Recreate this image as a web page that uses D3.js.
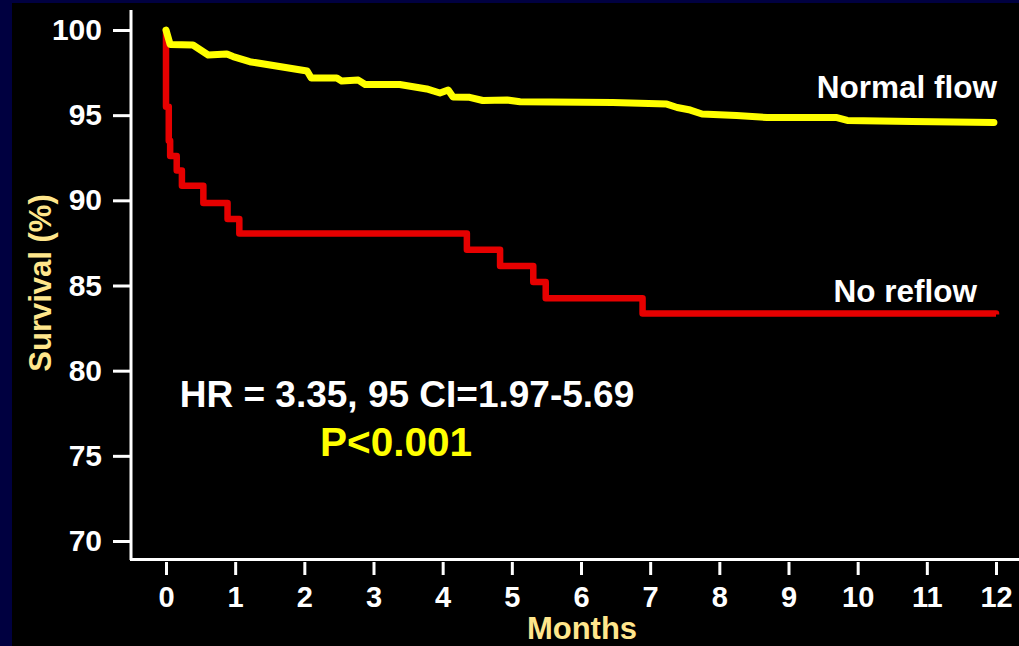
<!DOCTYPE html>
<html>
<head>
<meta charset="utf-8">
<script src="https://cdn.jsdelivr.net/npm/d3@7"></script>
<style>
  body { margin: 0; background: #000040; }
  text { font-family: "Liberation Sans", Arial, sans-serif; font-weight: bold; }
</style>
</head>
<body>
<svg id="grafico"></svg>
<script>
// tick labels
var mesesTicks = [0, 1, 2, 3, 4, 5, 6, 7, 8, 9, 10, 11, 12];
var sobrevivenciaTicks = [70, 75, 80, 85, 90, 95, 100];

// Normal flow
var normalMeses = [0, 0.06, 0.39, 0.61, 0.88, 0.97, 1.21, 2.04, 2.1, 2.47, 2.54, 2.78, 2.88, 3.38, 3.77, 3.96, 4.08, 4.15, 4.39, 4.58, 4.93, 5.12, 6.46, 7.24, 7.39, 7.58, 7.75, 8.25, 8.69, 9.7, 9.85, 10.79, 11.97];
var normalSobrev = [100, 99.15, 99.12, 98.53, 98.59, 98.44, 98.14, 97.59, 97.18, 97.18, 97.0, 97.06, 96.8, 96.8, 96.54, 96.3, 96.48, 96.07, 96.05, 95.86, 95.89, 95.79, 95.75, 95.65, 95.45, 95.3, 95.07, 94.98, 94.86, 94.86, 94.69, 94.63, 94.57];

// No reflow (step curve)
var reflowMeses = [0, 0, 0.04, 0.06, 0.155, 0.23, 0.54, 0.89, 1.06, 4.35, 4.83, 5.31, 5.49, 6.89, 12];
var reflowSobrev = [100, 95.5, 93.5, 92.6, 91.75, 90.85, 89.85, 88.9, 88.05, 87.1, 86.15, 85.2, 84.25, 83.35, 83.3];

var largura = 1019, altura = 646;
var svg = d3.select('#grafico')
            .attr('width', largura)
            .attr('height', altura);

//Fundo preto com borda azul escura
svg.append('rect')
   .attr('width', largura).attr('height', altura)
   .attr('fill', '#000040');
svg.append('rect')
   .attr('x', 12).attr('y', 3)
   .attr('width', largura - 12).attr('height', altura - 3)
   .attr('fill', '#000000');

//Escalas
var x = d3.scaleLinear().domain([0, 12]).range([166, 996]);
var y = d3.scaleLinear().domain([70, 100]).range([541, 30]);

//Eixo Y
var eixoY = svg.append('g')
    .attr('transform', 'translate(130,0)')
    .call(d3.axisLeft(y).tickValues(sobrevivenciaTicks).tickSize(17).tickPadding(11));
eixoY.select('.domain').remove();
eixoY.selectAll('line').attr('stroke', '#fff').attr('stroke-width', 3);
eixoY.selectAll('text').attr('fill', '#fff').style('font-size', '30px');

svg.append('line')
   .attr('x1', 131).attr('x2', 131)
   .attr('y1', 10).attr('y2', 560)
   .attr('stroke', '#fff').attr('stroke-width', 3);

//Eixo X
var eixoX = svg.append('g')
    .attr('transform', 'translate(0,562)')
    .call(d3.axisBottom(x).tickValues(mesesTicks).tickSize(13).tickPadding(11));
eixoX.select('.domain').remove();
eixoX.selectAll('line').attr('stroke', '#fff').attr('stroke-width', 3);
eixoX.selectAll('text').attr('fill', '#fff').style('font-size', '29px');

svg.append('line')
   .attr('x1', 130).attr('x2', largura)
   .attr('y1', 559.5).attr('y2', 559.5)
   .attr('stroke', '#fff').attr('stroke-width', 3);

//Títulos dos eixos
svg.append('text')
   .attr('transform', 'translate(51,283) rotate(-90)')
   .style('text-anchor', 'middle')
   .style('font-size', '31px')
   .attr('fill', '#ffe68c')
   .text('Survival (%)');

svg.append('text')
   .attr('x', 582).attr('y', 639)
   .style('text-anchor', 'middle')
   .style('font-size', '31px')
   .attr('fill', '#ffe68c')
   .text('Months');

//Curvas
var reflow = reflowMeses.map((m, i) => ({ m: m, v: reflowSobrev[i] }));
var normal = normalMeses.map((m, i) => ({ m: m, v: normalSobrev[i] }));

svg.append('path')
   .datum(reflow)
   .attr('d', d3.line().x(d => x(d.m)).y(d => y(d.v)).curve(d3.curveStepAfter))
   .attr('fill', 'none')
   .attr('stroke', '#e60000')
   .attr('stroke-width', 6.5)
   .attr('stroke-linejoin', 'round');

svg.append('path')
   .datum(normal)
   .attr('d', d3.line().x(d => x(d.m)).y(d => y(d.v)))
   .attr('fill', 'none')
   .attr('stroke', '#ffff00')
   .attr('stroke-width', 7)
   .attr('stroke-linejoin', 'round')
   .attr('stroke-linecap', 'round');

//Rótulos das curvas e anotações
svg.append('text')
   .attr('x', 997).attr('y', 98)
   .style('text-anchor', 'end').style('font-size', '31.5px')
   .attr('fill', '#fff')
   .text('Normal flow');

svg.append('text')
   .attr('x', 977).attr('y', 302)
   .style('text-anchor', 'end').style('font-size', '31.5px')
   .attr('fill', '#fff')
   .text('No reflow');

svg.append('text')
   .attr('x', 407).attr('y', 407)
   .style('text-anchor', 'middle').style('font-size', '37px')
   .attr('fill', '#fff')
   .text('HR = 3.35, 95 CI=1.97-5.69');

svg.append('text')
   .attr('x', 396).attr('y', 456)
   .style('text-anchor', 'middle').style('font-size', '40.5px')
   .attr('fill', '#ffff00')
   .text('P<0.001');
</script>
</body>
</html>
